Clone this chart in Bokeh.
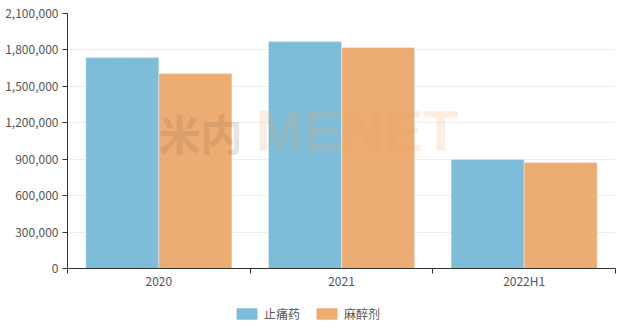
import numpy as np
from bokeh.plotting import figure
from bokeh.layouts import column
from bokeh.models import (ColumnDataSource, Range1d, FixedTicker, NumeralTickFormatter,
                          Legend, LegendItem, Label)
from bokeh.embed import file_html
from bokeh.resources import INLINE

categories = ["2020", "2021", "2022H1"]
series_names = ["止痛药", "麻醉剂"]
painkillers = [1737000, 1869000, 897000]
anesthetics = [1606000, 1820000, 873000]
y_ticks = [0, 300000, 600000, 900000, 1200000, 1500000, 1800000, 2100000]

colors = ["#7ebdda", "#ecac72"]
font = "Noto Sans CJK SC"

idx = np.arange(len(categories))
src = ColumnDataSource(dict(
    x1=idx + 0.3, x2=idx + 0.7,
    a=painkillers, b=anesthetics,
))

p = figure(width=624, height=300, output_backend="svg", toolbar_location=None,
           x_range=Range1d(0, len(categories)), y_range=Range1d(0, 2100000),
           min_border_left=67, min_border_right=9, min_border_top=13, min_border_bottom=32)
p.outline_line_color = None
p.background_fill_color = "white"
p.border_fill_color = "white"

r1 = p.vbar(x="x1", top="a", width=0.4, source=src, fill_color=colors[0],
            line_color="white", line_alpha=0.35, line_width=1)
r2 = p.vbar(x="x2", top="b", width=0.4, source=src, fill_color=colors[1],
            line_color="white", line_alpha=0.35, line_width=1)

# watermark
p.add_layout(Label(x=91, y=106, x_units="screen", y_units="screen", text="米内",
                   text_font=font, text_font_style="bold", text_font_size="42px",
                   text_color="#8a6a55", text_alpha=0.2))
p.add_layout(Label(x=188, y=106, x_units="screen", y_units="screen", text="MENET",
                   text_font="Liberation Sans", text_font_style="bold", text_font_size="58px",
                   text_color="#f0a060", text_alpha=0.18))

# x axis
centers = [float(i) + 0.5 for i in idx]
p.xaxis.ticker = FixedTicker(ticks=centers, minor_ticks=[float(i) for i in range(len(categories) + 1)])
p.xaxis.major_label_overrides = {c: cat for c, cat in zip(centers, categories)}
p.xaxis.major_tick_line_color = None
p.xaxis.major_tick_in = 0
p.xaxis.major_tick_out = 0
p.xaxis.minor_tick_line_color = "#333333"
p.xaxis.minor_tick_in = 0
p.xaxis.minor_tick_out = 5
p.xaxis.axis_line_color = "#333333"
p.xaxis.major_label_text_font = font
p.xaxis.major_label_text_font_size = "12px"
p.xaxis.major_label_text_color = "#555555"
p.xaxis.major_label_standoff = -2
p.xgrid.grid_line_color = None

# y axis
p.yaxis.ticker = FixedTicker(ticks=y_ticks)
p.yaxis.formatter = NumeralTickFormatter(format="0,0")
p.yaxis.minor_tick_line_color = None
p.yaxis.major_tick_in = 0
p.yaxis.major_tick_out = 5
p.yaxis.major_tick_line_color = "#333333"
p.yaxis.axis_line_color = "#333333"
p.yaxis.major_label_text_font = font
p.yaxis.major_label_text_font_size = "12px"
p.yaxis.major_label_text_color = "#555555"
p.yaxis.major_label_standoff = 4
p.ygrid.grid_line_color = "#eeeeee"

# legend strip (swatches kept outside the strip's visible range)
lg = figure(width=624, height=27, output_backend="svg", toolbar_location=None,
            x_range=Range1d(0, 1), y_range=Range1d(0, 1),
            x_axis_location=None, y_axis_location=None,
            min_border_left=0, min_border_right=0, min_border_top=0, min_border_bottom=0)
lg.outline_line_color = None
lg.xgrid.grid_line_color = None
lg.ygrid.grid_line_color = None
swatch = ColumnDataSource(dict(x=[-5], top=[-5]))
l1 = lg.vbar(x="x", top="top", width=0.1, source=swatch, fill_color=colors[0], line_color=colors[0])
l2 = lg.vbar(x="x", top="top", width=0.1, source=swatch, fill_color=colors[1], line_color=colors[1])
legend = Legend(items=[LegendItem(label=series_names[0], renderers=[l1]),
                       LegendItem(label=series_names[1], renderers=[l2])],
                orientation="horizontal", location=(167, 5),
                glyph_width=25, glyph_height=13, label_standoff=5, spacing=14,
                label_text_font=font, label_text_font_size="12px", label_text_color="#555555",
                border_line_color=None, background_fill_alpha=0, padding=0, margin=0)
lg.add_layout(legend)

layout = column(p, lg, spacing=0)
open("out.html", "w").write(file_html(layout, INLINE))
